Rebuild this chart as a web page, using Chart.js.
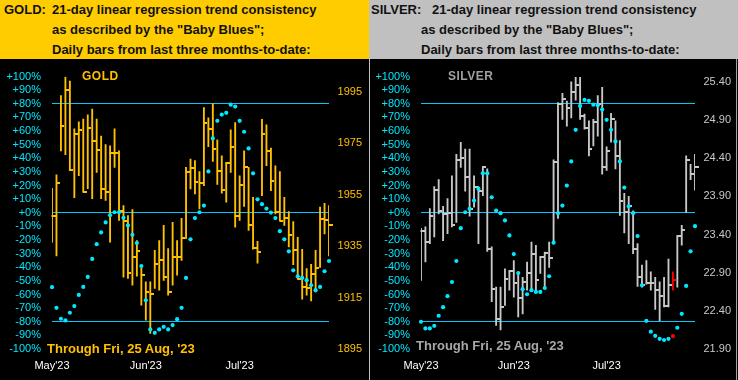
<!DOCTYPE html>
<html><head><meta charset="utf-8">
<script src="https://cdn.jsdelivr.net/npm/chart.js@4.4.1/dist/chart.umd.min.js"></script>
<style>
html,body{margin:0;padding:0;background:#000;}
#wrap{position:relative;width:738px;height:380px;overflow:hidden;background:#000;font-family:'Liberation Sans',Arial,sans-serif;}
.hdr{position:absolute;top:0;height:59px;}
.t{position:absolute;white-space:nowrap;font-weight:bold;font-size:13px;line-height:20px;color:#111;}
canvas{position:absolute;top:59px;}
.lab{position:absolute;white-space:nowrap;font-weight:bold;}
</style></head>
<body><div id="wrap">
<div class="hdr" style="left:0;width:369px;background:#FFCC00;"></div>
<div class="hdr" style="left:369px;width:369px;background:#C0C0C0;"></div>
<span class="t" style="left:4px;top:0px;">GOLD:</span>
<span class="t" style="left:52px;top:0px;">21-day linear regression trend consistency</span>
<span class="t" style="left:52px;top:20px;">as described by the "Baby Blues";</span>
<span class="t" style="left:52px;top:40px;">Daily bars from last three months-to-date:</span>
<span class="t" style="left:371px;top:0px;">SILVER:</span>
<span class="t" style="left:432px;top:0px;">21-day linear regression trend consistency</span>
<span class="t" style="left:421px;top:20px;">as described by the "Baby Blues";</span>
<span class="t" style="left:421px;top:40px;">Daily bars from last three months-to-date:</span>
<canvas id="gold" width="368" height="321" style="left:0;"></canvas>
<canvas id="silver" width="368" height="321" style="left:370px;"></canvas>
<div style="position:absolute;left:369px;top:59px;width:1px;height:321px;background:#C0C0C0;"></div>
<div style="position:absolute;left:736px;top:59px;width:1px;height:321px;background:#A0A0A0;"></div>
<span class="lab" style="left:82px;top:70px;font-size:12px;line-height:12px;letter-spacing:0.5px;color:#FFC000;">GOLD</span>
<span class="lab" style="left:448px;top:70px;font-size:12px;line-height:12px;letter-spacing:0.5px;color:#A0A0A0;">SILVER</span>
<span class="lab" style="left:47px;top:341.6px;font-size:13px;line-height:13px;color:#FFC000;">Through Fri, 25 Aug, '23</span>
<span class="lab" style="left:416px;top:338.6px;font-size:13px;line-height:13px;color:#A8A8A8;">Through Fri, 25 Aug, '23</span>
</div>
<script>
// ---- data ----
const monthLabels = ["May'23", "Jun'23", "Jul'23"];
const monthStarts = [0, 21, 42];
const pctTicks = [-100,-90,-80,-70,-60,-50,-40,-30,-20,-10,0,10,20,30,40,50,60,70,80,90,100];
const refLevels = [80, 0, -80];
const goldPriceTicks = [1895, 1915, 1935, 1955, 1975, 1995];
const silverPriceTicks = [21.90, 22.40, 22.90, 23.40, 23.90, 24.40, 24.90, 25.40];

const goldHigh = [1957.5,1962.8,1993.6,2000.8,1999.3,1980.7,1983.4,1984.5,1986.1,1988.4,1984.5,1977.9,1974.5,1974.1,1980.7,1972.1,1950.8,1946.9,1949.3,1937.2,1926.4,1921.1,1921.1,1933.4,1937.2,1943.1,1934.1,1944.3,1937.2,1945.8,1965.7,1968.9,1968.3,1964.0,1988.9,1985.0,1990.5,1976.4,1970.2,1967.6,1980.3,1983.1,1962.4,1972.1,1965.7,1954.0,1936.9,1984.4,1982.2,1973.2,1966.3,1964.0,1954.0,1948.5,1944.6,1938.5,1933.8,1926.3,1927.9,1933.4,1950.2,1951.7,1950.8];
const goldLow = [1936.5,1931.2,1972.1,1970.6,1964.4,1953.9,1962.4,1956.0,1957.4,1953.5,1963.7,1953.5,1952.8,1936.6,1965.7,1945.0,1923.0,1922.5,1919.8,1923.3,1912.1,1906.2,1901.1,1918.6,1917.9,1921.7,1915.9,1919.8,1923.7,1929.5,1937.9,1957.3,1955.3,1949.5,1958.6,1973.7,1968.0,1959.0,1955.6,1952.1,1963.7,1942.4,1945.0,1950.5,1941.1,1933.8,1928.4,1954.7,1966.3,1956.6,1947.6,1945.0,1943.1,1934.7,1927.8,1922.4,1914.4,1915.9,1913.7,1917.2,1926.7,1939.8,1931.2];
const goldClose = [1946.6,1959.5,1981.6,1995.7,1964.8,1978.7,1980.4,1956.2,1980.9,1976.0,1972.4,1957.3,1956.0,1971.1,1971.1,1948.6,1945.0,1924.5,1930.8,1933.0,1923.7,1917.0,1916.3,1928.2,1929.5,1923.0,1917.2,1930.8,1930.8,1938.0,1963.7,1965.3,1959.8,1959.5,1983.1,1980.8,1972.8,1964.4,1956.9,1967.2,1973.7,1946.7,1959.0,1965.9,1943.3,1934.3,1932.7,1978.8,1972.1,1960.2,1948.2,1945.0,1946.0,1939.5,1933.6,1922.4,1919.1,1918.9,1924.3,1926.7,1945.7,1945.3,1943.4];
const goldTrend = [-54.6,-69.8,-77.8,-79.0,-73.4,-68.5,-60.3,-54.4,-47.1,-33.9,-23.0,-14.4,-7.1,-1.8,0.4,0.4,-3.7,-9.3,-16.1,-22.2,-39.1,-64.2,-85.6,-88.1,-85.6,-83.7,-85.6,-82.4,-78.1,-69.8,-47.8,-19.5,-3.9,0.4,5.3,30.4,54.6,67.5,72.1,73.4,79.4,78.0,67.5,59.5,47.3,29.0,9.9,6.3,3.1,0.2,-3.9,-13.5,-19.5,-28.3,-42.2,-46.6,-47.8,-49.5,-53.2,-56.8,-54.4,-42.9,-35.4];

const silverHigh = [23.48,23.50,23.74,24.03,24.12,23.77,23.87,24.17,24.45,24.61,24.52,24.52,24.17,24.03,24.29,24.26,23.24,22.71,22.71,22.95,22.93,23.06,22.89,22.84,23.04,23.30,23.26,23.11,23.17,23.30,24.38,25.13,25.25,25.15,25.40,25.46,25.46,24.98,24.89,24.91,25.22,25.33,24.55,24.99,24.89,24.63,23.94,23.90,23.71,23.28,23.00,23.06,22.91,22.84,22.78,22.84,23.08,22.91,23.39,23.52,24.43,24.32,24.45];
const silverLow = [22.80,23.04,23.28,23.37,23.67,23.32,23.41,23.50,23.56,24.28,23.97,23.64,23.76,23.28,23.91,23.18,22.52,22.21,22.15,22.47,22.67,22.58,22.32,22.36,22.67,22.69,22.65,22.89,22.71,22.97,23.32,23.61,24.91,24.82,24.93,25.16,24.91,24.78,24.43,24.56,24.69,24.19,24.24,24.61,24.26,23.65,23.42,23.28,23.15,22.72,22.71,22.75,22.67,22.42,22.27,22.45,22.45,22.67,22.71,23.26,23.69,24.12,23.98];
const silverClose = [23.45,23.30,23.64,23.98,23.71,23.67,23.68,23.52,24.38,24.40,24.15,23.74,24.02,23.97,24.28,23.21,22.69,22.29,22.45,22.82,22.92,22.76,22.57,22.78,22.90,23.14,22.80,23.10,23.16,23.09,24.35,25.11,25.17,25.06,25.27,25.36,24.96,24.79,24.52,24.87,25.11,24.29,24.49,24.91,24.43,23.84,23.70,23.77,23.21,22.84,22.74,22.77,22.76,22.67,22.59,22.47,22.74,22.80,23.38,23.46,24.38,24.19,24.29];
const silverTrend = [-80.0,-84.9,-84.9,-83.0,-75.6,-69.3,-61.2,-50.8,-35.4,-11.3,0.4,2.9,9.0,17.6,29.0,29.0,11.4,1.7,-0.3,-5.6,-16.6,-30.3,-44.2,-56.1,-59.8,-56.8,-58.1,-58.1,-55.2,-46.6,-21.9,-0.3,5.3,20.0,37.7,60.9,78.5,82.9,82.2,79.4,79.0,75.8,68.3,60.9,52.4,37.7,18.5,4.8,-0.3,-17.1,-53.2,-79.3,-87.3,-90.3,-92.5,-93.4,-92.5,-90.5,-84.4,-74.2,-53.7,-28.3,-9.8];
const silverRedIndex = 57;

// ---- drawing ----
const sessions = goldClose.map((_, i) => String(i));
const FONT = "'Liberation Sans', Arial, sans-serif";
const CYAN_DOT = '#00E8FF';
const CYAN_TXT = '#00E8FF';
const CYAN_LINE = '#00C8FF';

function tickImg(color) {
  const c = document.createElement('canvas');
  c.width = 7; c.height = 2;
  const g = c.getContext('2d');
  g.fillStyle = color;
  g.fillRect(3, 0, 4, 2);
  return c;
}

function buildChart(id, o) {
  const n = o.close.length;
  const barColors = [], tickStyles = [], dotColors = [];
  const normTick = tickImg(o.barColor), redTick = tickImg('#FF0000');
  for (let i = 0; i < n; i++) {
    const red = i === o.redIndex;
    barColors.push(red ? '#FF0000' : o.barColor);
    tickStyles.push(red ? redTick : normTick);
    dotColors.push(red ? '#FF0000' : CYAN_DOT);
  }
  return new Chart(document.getElementById(id), {
    type: 'bar',
    data: {
      labels: sessions,
      datasets: [
        { type: 'line', data: o.trend, yAxisID: 'pct', showLine: false, pointStyle: 'circle',
          pointRadius: 2.1, pointHoverRadius: 2.1, pointBorderWidth: 0, pointBackgroundColor: dotColors, order: 0 },
        { type: 'line', data: o.close, yAxisID: 'price', showLine: false, pointStyle: tickStyles,
          pointRadius: 3, pointHoverRadius: 3, order: 1 },
        { type: 'bar', data: o.low.map((l, i) => [l, o.high[i]]), yAxisID: 'price',
          backgroundColor: barColors, borderWidth: 0, barThickness: 1.2, order: 2 }
      ]
    },
    options: {
      responsive: false, animation: false, devicePixelRatio: 1, events: [],
      layout: { padding: { left: 0, right: o.padRight, top: 16.6, bottom: 0 } },
      plugins: { legend: { display: false }, tooltip: { enabled: false } },
      scales: {
        x: {
          type: 'category', offset: false,
          grid: { display: false, drawTicks: false }, border: { display: false },
          ticks: { autoSkip: false, maxRotation: 0, minRotation: 0, padding: 10, color: '#FFFFFF',
            font: { family: FONT, size: 11 },
            callback: (v, i) => { const k = monthStarts.indexOf(i); return k >= 0 ? monthLabels[k] : ''; } },
          afterFit: s => { s.height = 31; }
        },
        pct: {
          type: 'linear', position: 'left', min: -100, max: 100,
          grid: { drawTicks: false, lineWidth: 1,
            color: c => (c.tick && refLevels.includes(c.tick.value)) ? CYAN_LINE : 'rgba(0,0,0,0)' },
          border: { display: false },
          afterBuildTicks: s => { s.ticks = pctTicks.map(v => ({ value: v })); },
          ticks: { autoSkip: false, color: CYAN_TXT, padding: 11, font: { family: FONT, size: 11 },
            callback: v => (v >= 0 ? '+' : '') + v + '%' },
          afterFit: s => { s.width = o.leftW; }
        },
        price: {
          type: 'linear', position: 'right', min: o.pmin, max: o.pmax,
          grid: { display: false, drawTicks: false }, border: { display: false },
          afterBuildTicks: s => { s.ticks = o.priceTicks.map(v => ({ value: v })); },
          ticks: { autoSkip: false, color: o.priceColor, crossAlign: 'far', padding: 0, font: { family: FONT, size: 11 },
            callback: v => o.fmt(v) },
          afterFit: s => { s.width = o.rightW; }
        }
      }
    }
  });
}

buildChart('gold', {
  high: goldHigh, low: goldLow, close: goldClose, trend: goldTrend, redIndex: -1,
  barColor: '#FFC000', priceColor: '#FFC000', priceTicks: goldPriceTicks,
  pmin: 1895, pmax: 2001, fmt: v => String(v), leftW: 52, rightW: 33, padRight: 6
});
buildChart('silver', {
  high: silverHigh, low: silverLow, close: silverClose, trend: silverTrend, redIndex: silverRedIndex,
  barColor: '#C8C8C8', priceColor: '#C8C8C8', priceTicks: silverPriceTicks,
  pmin: 21.90, pmax: 25.47, fmt: v => v.toFixed(2), leftW: 51, rightW: 36, padRight: 7
});
</script>
</body></html>
